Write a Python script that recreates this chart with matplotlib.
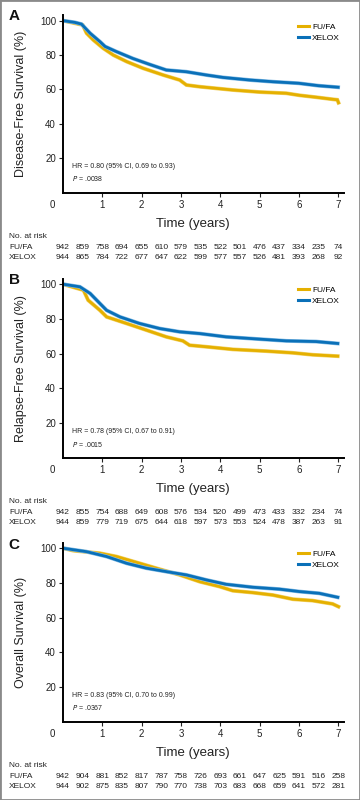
import matplotlib
matplotlib.use("Agg")
import matplotlib.pyplot as plt
import matplotlib.patheffects as pe
from matplotlib.patches import Rectangle
from matplotlib.lines import Line2D

plt.rcParams['font.family'] = ['Liberation Sans', 'DejaVu Sans']

# Данные (годы / выживаемость, %)
dfs_fufa_t = [0, 0.3, 0.5, 0.6, 0.77, 1.02, 1.28, 1.62, 2.04, 2.55, 2.97, 3.14, 3.48, 4.32, 5.0, 5.68, 6.02, 6.44, 6.86, 6.98, 7.01]
dfs_fufa_s = [100, 98.5, 97.5, 92.7, 88.8, 84.0, 80.0, 76.2, 72.3, 68.4, 65.5, 62.6, 61.6, 59.7, 58.5, 57.8, 56.6, 55.5, 54.3, 54.0, 52.3]
dfs_xelox_t = [0, 0.3, 0.47, 0.69, 0.94, 1.07, 1.36, 1.78, 2.2, 2.63, 3.14, 3.65, 4.07, 4.75, 5.34, 6.0, 6.5, 7.0]
dfs_xelox_s = [100, 99.0, 98.0, 92.7, 87.8, 85.0, 82.0, 78.0, 74.6, 71.3, 70.3, 68.4, 67.0, 65.5, 64.5, 63.6, 62.2, 61.3]

rfs_fufa_t = [0, 0.3, 0.52, 0.64, 0.94, 1.11, 1.62, 2.12, 2.63, 3.05, 3.22, 3.65, 4.32, 5.17, 5.85, 6.35, 6.99]
rfs_fufa_s = [100, 98.0, 96.6, 90.8, 85.0, 81.2, 77.4, 73.6, 69.7, 67.4, 64.9, 64.0, 62.5, 61.5, 60.5, 59.4, 58.6]
rfs_xelox_t = [0, 0.43, 0.69, 0.94, 1.11, 1.45, 1.95, 2.46, 2.97, 3.48, 4.15, 5.0, 5.68, 6.44, 6.99]
rfs_xelox_s = [100, 98.5, 94.7, 88.9, 85.0, 81.2, 77.4, 74.5, 72.6, 71.6, 69.7, 68.4, 67.4, 67.0, 65.9]

os_fufa_t = [0, 0.26, 0.94, 1.36, 1.95, 2.46, 2.97, 3.48, 3.98, 4.32, 4.83, 5.34, 5.85, 6.35, 6.86, 7.01]
os_fufa_s = [100, 98.6, 97.1, 95.2, 91.3, 87.9, 84.6, 80.7, 77.9, 75.5, 74.4, 73.0, 70.6, 69.8, 67.9, 66.3]
os_xelox_t = [0, 0.6, 1.11, 1.62, 2.12, 2.63, 3.14, 3.65, 4.15, 4.83, 5.51, 6.02, 6.52, 6.99]
os_xelox_s = [100, 98.0, 95.2, 91.3, 88.5, 86.5, 84.6, 81.7, 79.2, 77.5, 76.4, 75.0, 74.0, 71.7]

# Число пациентов под риском (каждые 6 месяцев)
risk_times = [0, 0.5, 1, 1.5, 2, 2.5, 3, 3.5, 4, 4.5, 5, 5.5, 6, 6.5, 7]
dfs_risk_fufa = [942, 859, 758, 694, 655, 610, 579, 535, 522, 501, 476, 437, 334, 235, 74]
dfs_risk_xelox = [944, 865, 784, 722, 677, 647, 622, 599, 577, 557, 526, 481, 393, 268, 92]
rfs_risk_fufa = [942, 855, 754, 688, 649, 608, 576, 534, 520, 499, 473, 433, 332, 234, 74]
rfs_risk_xelox = [944, 859, 779, 719, 675, 644, 618, 597, 573, 553, 524, 478, 387, 263, 91]
os_risk_fufa = [942, 904, 881, 852, 817, 787, 758, 726, 693, 661, 647, 625, 591, 516, 258]
os_risk_xelox = [944, 902, 875, 835, 807, 790, 770, 738, 703, 683, 668, 659, 641, 572, 281]

panels = [
    ("A", "Disease-Free Survival (%)", "HR = 0.80 (95% CI, 0.69 to 0.93)", ".0038",
     dfs_fufa_t, dfs_fufa_s, dfs_xelox_t, dfs_xelox_s, dfs_risk_fufa, dfs_risk_xelox),
    ("B", "Relapse-Free Survival (%)", "HR = 0.78 (95% CI, 0.67 to 0.91)", ".0015",
     rfs_fufa_t, rfs_fufa_s, rfs_xelox_t, rfs_xelox_s, rfs_risk_fufa, rfs_risk_xelox),
    ("C", "Overall Survival (%)", "HR = 0.83 (95% CI, 0.70 to 0.99)", ".0367",
     os_fufa_t, os_fufa_s, os_xelox_t, os_xelox_s, os_risk_fufa, os_risk_xelox),
]

GOLD = "#E5B000"
GOLD_LT = "#F2D36A"
BLUE = "#0A70B8"
BLUE_LT = "#86BDE6"

W, H = 360, 800
fig = plt.figure(figsize=(3.6, 8), dpi=100)

# положение осей в пикселях: (низ оси, верх оси)
axes_px = [(192.7, 15.5), (458, 279), (721.7, 543)]
letters_y = [16, 280, 545]

PT = 100 / 72.0  # пикселей в пункте
small = ['Liberation Sans Narrow', 'Liberation Sans', 'DejaVu Sans']

for (letter, ylab, hr, p, ft, fs, xt, xs, rf, rx), (yb, yt), ly in zip(panels, axes_px, letters_y):
    ax = fig.add_axes([63 / W, 1 - yb / H, (344 - 63) / W, (yb - yt) / H])
    ax.plot(ft, fs, color=GOLD, lw=2.0, solid_joinstyle="miter",
            path_effects=[pe.Stroke(linewidth=2.8, foreground=GOLD_LT), pe.Normal()])
    ax.plot(xt, xs, color=BLUE, lw=2.0, solid_joinstyle="miter",
            path_effects=[pe.Stroke(linewidth=2.8, foreground=BLUE_LT), pe.Normal()])
    ax.set_xlim(0, 7.15)
    ax.set_ylim(0, 103)
    ax.set_yticks([20, 40, 60, 80, 100])
    ax.set_xticks([1, 2, 3, 4, 5, 6, 7])
    for s in ["top", "right"]:
        ax.spines[s].set_visible(False)
    for s in ["left", "bottom"]:
        ax.spines[s].set_linewidth(1.4)
    ax.tick_params(axis="both", labelsize=7, length=3, width=0.8, pad=2, colors="#222222")
    ax.set_ylabel(ylab, fontsize=9, color="#222222")
    ax.yaxis.set_label_coords(-0.128, 0.5)
    ax.annotate("0", xy=(0, 0), xycoords="data", xytext=(-11 / PT, -12 / PT),
                textcoords="offset points", ha="center", va="center", fontsize=7,
                color="#222222", annotation_clip=False)

    handles = [Line2D([], [], color=GOLD, lw=2.2), Line2D([], [], color=BLUE, lw=2.2)]
    ax.legend(handles, ["FU/FA", "XELOX"], loc="upper left", bbox_to_anchor=(0.81, 1.0),
              frameon=False, handlelength=1.3, handletextpad=0.4,
              labelspacing=0.35, prop={'family': small, 'size': 6})

    ax.text(0.23, 15, hr, fontsize=5.0, family=small, color="#222222", va="center")
    ax.text(0.23, 8, "$\\it{P}$ = " + p, fontsize=5.0, family=small, color="#222222", va="center")

    # подпись оси X и таблица числа под риском
    def below(x, dy, txt, **kw):
        ax.annotate(txt, xy=(x, 0), xycoords=("data", "axes fraction"),
                    xytext=(0, -dy / PT), textcoords="offset points",
                    va="center", annotation_clip=False, **kw)

    below(3.3, 31, "Time (years)", ha="center", fontsize=9.5, color="#222222")
    fig.text(9 / W, 1 - (yb + 44) / H, "No. at risk", fontsize=6, family=small,
             va="center", color="#222222")
    fig.text(9 / W, 1 - (yb + 55) / H, "FU/FA", fontsize=6, family=small,
             va="center", color="#222222")
    fig.text(9 / W, 1 - (yb + 65) / H, "XELOX", fontsize=6, family=small,
             va="center", color="#222222")
    for t, a, b in zip(risk_times, rf, rx):
        below(t, 55, str(a), ha="center", fontsize=6, family=small, color="#222222")
        below(t, 65, str(b), ha="center", fontsize=6, family=small, color="#222222")

    fig.text(14 / W, 1 - ly / H, letter, fontsize=11, fontweight="bold",
             ha="center", va="center", color="#111111")

# серая рамка вокруг рисунка
fig.patches.append(Rectangle((0, 0), 1, 1, transform=fig.transFigure, fill=False,
                             edgecolor="#8a8a8a", lw=2.0))

fig.savefig("out.png", dpi=100)
